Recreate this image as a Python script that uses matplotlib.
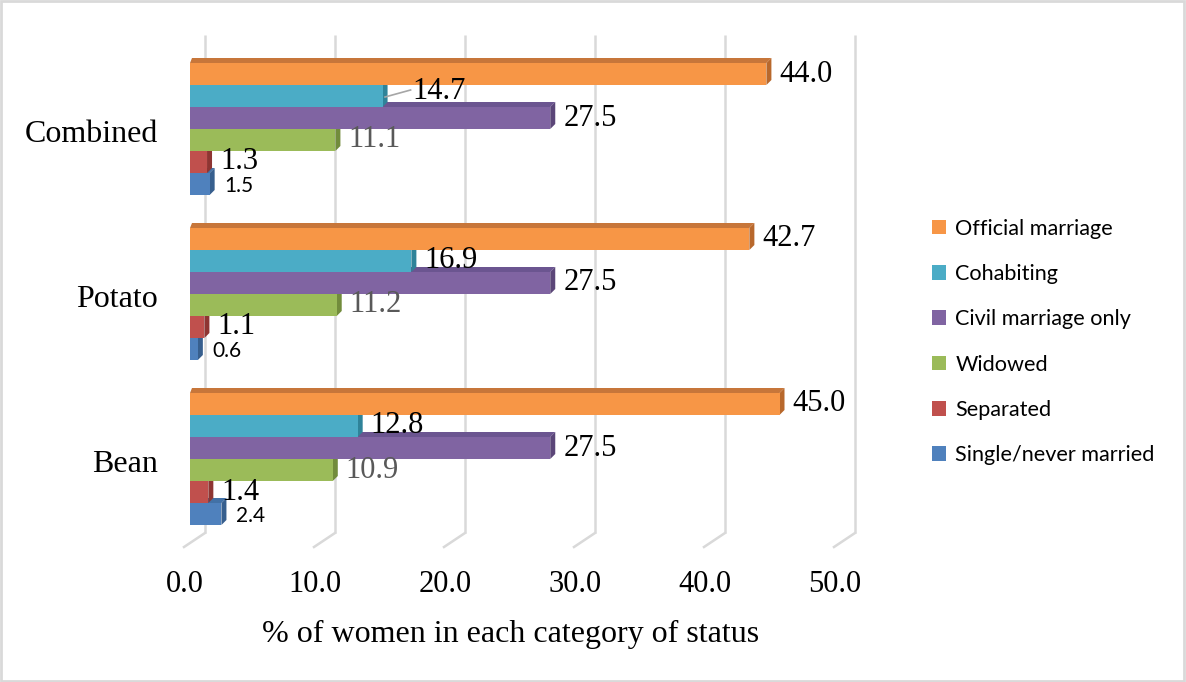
import matplotlib
matplotlib.use('Agg')
import matplotlib.pyplot as plt
from matplotlib.patches import Polygon, Patch, Rectangle

# ---------------- data ----------------
categories = ['Bean', 'Potato', 'Combined']
series_names = ['Official marriage', 'Cohabiting', 'Civil marriage only',
                'Widowed', 'Separated', 'Single/never married']
official = [45.0, 42.7, 44.0]
cohabiting = [12.8, 16.9, 14.7]
civil = [27.5, 27.5, 27.5]
widowed = [10.9, 11.2, 11.1]
separated = [1.4, 1.1, 1.3]
single = [2.4, 0.6, 1.5]
tick_values = [0, 10, 20, 30, 40, 50]
tick_labels = ['0.0', '10.0', '20.0', '30.0', '40.0', '50.0']
x_title = '% of women in each category of status'

series_values = [official, cohabiting, civil, widowed, separated, single]
front_colors = ['#F79646', '#4BACC6', '#8064A2', '#9BBB59', '#C0504D', '#4F81BD']
side_colors = ['#B8682C', '#2F8399', '#5B4678', '#728C3C', '#8E3532', '#375F8E']
top_colors = ['#C7763A', '#3C97AE', '#6B5590', '#84A249', '#A5413E', '#4271A6']
label_colors = ['black', 'black', 'black', '#595959', 'black', 'black']

# ---------------- geometry (pixel model) ----------------
W, H = 1186, 682
PX = 13.1      # px per % on the bar plane
PY = 165.0     # px per category step
X0 = 190       # px of 0 on bar plane
Y0 = 459       # px of Bean centre

fig = plt.figure(figsize=(W / 100, H / 100), dpi=100)
ax = fig.add_axes([0, 0, 1, 1])
ax.set_xlim(-X0 / PX, (W - X0) / PX)
ax.set_ylim((Y0 - H) / PY, Y0 / PY)
ax.axis('off')

def dx(px):
    return px / PX

def dy(px):
    return px / PY

# figure border
fig.patches.append(Rectangle((0.001, 0.001), 0.997, 0.997, transform=fig.transFigure,
                             fill=False, edgecolor='#D9D9D9', linewidth=2))

# gridlines: back wall + floor
grid_c = '#D9D9D9'
wall_top = dy(Y0 - 35)
floor_back = dy(Y0 - 533)
floor_front = dy(Y0 - 547)
back_scale = 13.0 / PX
for t in tick_values:
    xb = dx(15) + t * back_scale
    xf = dx(-6) + t * back_scale
    ax.plot([xb, xb], [floor_back, wall_top], color=grid_c, lw=1.8, zorder=1,
            solid_capstyle='butt')
    ax.plot([xb, xf], [floor_back, floor_front], color=grid_c, lw=1.8, zorder=1)

# tick labels
serif = 'Liberation Serif'
for t, lab in zip(tick_values, tick_labels):
    ax.text(dx(-5) + t * back_scale, dy(Y0 - 584), lab, ha='center', va='center',
            fontsize=22, family=serif, color='black')

ax.text(dx(511 - X0), dy(Y0 - 634), x_title, ha='center', va='center',
        fontsize=23, family=serif, color='black')

# bars
bh = 0.8 / 6
DX = dx(5)
DY = dy(5)
for ci, cat in enumerate(categories):
    ax.text(dx(158 - X0), ci + dy(-6), cat, ha='right', va='center',
            fontsize=23, family=serif, color='black')
    for j in range(5, -1, -1):
        v = series_values[j][ci]
        top = ci + 0.4 - j * bh
        bot = top - bh
        z = 10 + (5 - j) * 3
        # top face
        ax.add_patch(Polygon([(0, top), (v, top), (v + DX, top + DY), (DX * 0.4, top + DY)],
                             closed=True, facecolor=top_colors[j], edgecolor='none', zorder=z))
        # side face
        ax.add_patch(Polygon([(v, bot), (v + DX, bot + DY), (v + DX, top + DY), (v, top)],
                             closed=True, facecolor=side_colors[j], edgecolor='none', zorder=z + 1))
        # front face
        ax.add_patch(Rectangle((0, bot), v, bh, facecolor=front_colors[j],
                               edgecolor='none', zorder=z + 2))
        yc = (top + bot) / 2
        if j == 5:
            ax.text(v + DX + dx(10), yc - dy(2), f'{v:.1f}', ha='left', va='center',
                    fontsize=15, family='Lato', color='black', zorder=40)
        elif j == 1 and cat == 'Combined':
            ax.plot([v + DX * 0.5, v + dx(28)], [yc - dy(1), yc + dy(6)],
                    color='#A6A6A6', lw=1.2, zorder=40)
            ax.text(v + dx(30), yc + dy(4), f'{v:.1f}', ha='left', va='center',
                    fontsize=22, family=serif, color=label_colors[j], zorder=40)
        else:
            ax.text(v + DX + dx(8), yc, f'{v:.1f}', ha='left', va='center',
                    fontsize=22, family=serif, color=label_colors[j], zorder=40)

# legend
handles = [Patch(facecolor=c, edgecolor='none', label=n)
           for c, n in zip(front_colors, series_names)]
leg = fig.legend(handles=handles, loc='center left',
                 bbox_to_anchor=(921 / W, 1 - 342 / H), frameon=False,
                 prop={'family': 'Lato', 'size': 15.6},
                 handlelength=0.66, handleheight=0.66, handletextpad=0.42,
                 labelspacing=1.17, borderpad=0)

fig.savefig('out.png', dpi=100)
